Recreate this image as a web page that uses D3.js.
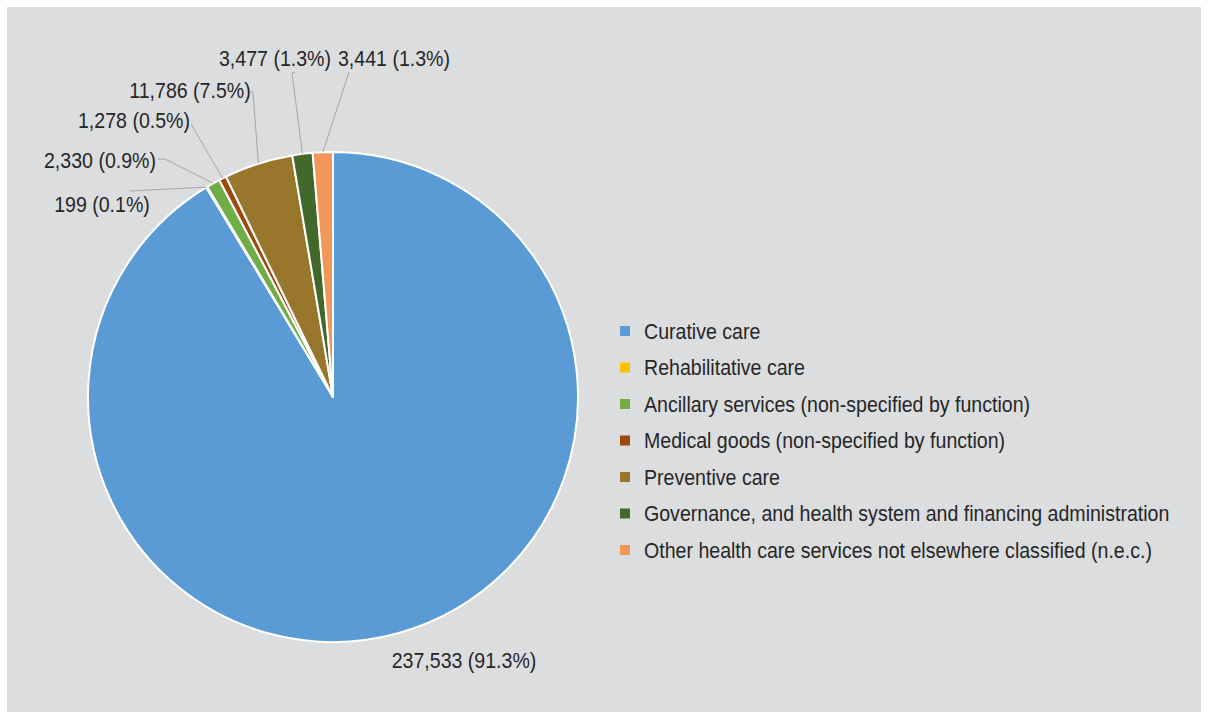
<!DOCTYPE html>
<html>
<head>
<meta charset="utf-8">
<script src="https://cdn.jsdelivr.net/npm/d3@7/dist/d3.min.js"></script>
<style>
  html, body { margin: 0; padding: 0; background: #ffffff; }
  svg { display: block; }
  text { font-family: "Liberation Sans Narrow", "Arial Narrow", "Liberation Sans", Arial, sans-serif; fill: #262626; }
</style>
</head>
<body>
<svg id="chart" width="1208" height="719"></svg>
<script>
// Health expenditure by function
const categories = [
  "Curative care",
  "Rehabilitative care",
  "Ancillary services (non-specified by function)",
  "Medical goods (non-specified by function)",
  "Preventive care",
  "Governance, and health system and financing administration",
  "Other health care services not elsewhere classified (n.e.c.)"
];
const values = [237533, 199, 2330, 1278, 11786, 3477, 3441];
const valueLabels = [
  "237,533 (91.3%)",
  "199 (0.1%)",
  "2,330 (0.9%)",
  "1,278 (0.5%)",
  "11,786 (7.5%)",
  "3,477 (1.3%)",
  "3,441 (1.3%)"
];
const colors = ["#5b9bd5", "#ffc000", "#70ad47", "#9e480e", "#98762c", "#43682b", "#f1975a"];

// Label placement: text centre x, baseline y, optional leader start point
const labelLayout = [
  { x: 464, y: 668, lead: null },
  { x: 102, y: 212, lead: [[130, 191]] },
  { x: 100, y: 168, lead: [[158, 159], [165, 159]] },
  { x: 134, y: 128, lead: [[191, 124]] },
  { x: 190, y: 98,  lead: [[250, 92], [253, 92]] },
  { x: 275, y: 66,  lead: [[295, 72], [292, 73]] },
  { x: 394, y: 66,  lead: [[349, 72]] }
];

const FONT_SIZE = 22;
const SQUEEZE = 0.89;   // condensed look

const svg = d3.select("#chart");
const W = 1208, H = 719;

svg.append("rect")
  .attr("x", 7).attr("y", 7)
  .attr("width", W - 14).attr("height", H - 14)
  .attr("fill", "#dcdddf");

const cx = 333, cy = 397, radius = 245;

const pie = d3.pie().value(d => d).sort(null);
const arcs = pie(values);
const arc = d3.arc().innerRadius(0).outerRadius(radius);

const g = svg.append("g").attr("transform", `translate(${cx},${cy})`);

g.selectAll("path.slice")
  .data(arcs)
  .join("path")
  .attr("class", "slice")
  .attr("d", arc)
  .attr("fill", (d, i) => colors[i])
  .attr("stroke", "#ffffff")
  .attr("stroke-width", 2)
  .attr("stroke-linejoin", "round");

// point on the rim at a slice's mid angle
function rimPoint(d) {
  const a = (d.startAngle + d.endAngle) / 2;
  return [cx + radius * Math.sin(a), cy - radius * Math.cos(a)];
}

// leader lines
const line = d3.line();
arcs.forEach((d, i) => {
  const L = labelLayout[i];
  if (!L.lead) return;
  const pts = L.lead.concat([rimPoint(d)]);
  svg.append("path")
    .attr("d", line(pts))
    .attr("fill", "none")
    .attr("stroke", "#a6a6a6")
    .attr("stroke-width", 1);
});

// value labels
svg.selectAll("text.vlabel")
  .data(arcs)
  .join("text")
  .attr("class", "vlabel")
  .attr("transform", (d, i) => `translate(${labelLayout[i].x},${labelLayout[i].y}) scale(${SQUEEZE},1)`)
  .attr("text-anchor", "middle")
  .attr("font-size", FONT_SIZE)
  .text((d, i) => valueLabels[i]);

// legend
const legend = svg.append("g").attr("transform", "translate(620,331)");
const rowGap = 36.5;
const item = legend.selectAll("g.item")
  .data(categories)
  .join("g")
  .attr("class", "item")
  .attr("transform", (d, i) => `translate(0,${i * rowGap})`);
item.append("rect")
  .attr("x", 0).attr("y", -5)
  .attr("width", 10).attr("height", 10)
  .attr("fill", (d, i) => colors[i]);
item.append("text")
  .attr("transform", `translate(24,0) scale(${SQUEEZE},1)`)
  .attr("dy", "0.36em")
  .attr("font-size", FONT_SIZE)
  .text(d => d);
</script>
</body>
</html>
